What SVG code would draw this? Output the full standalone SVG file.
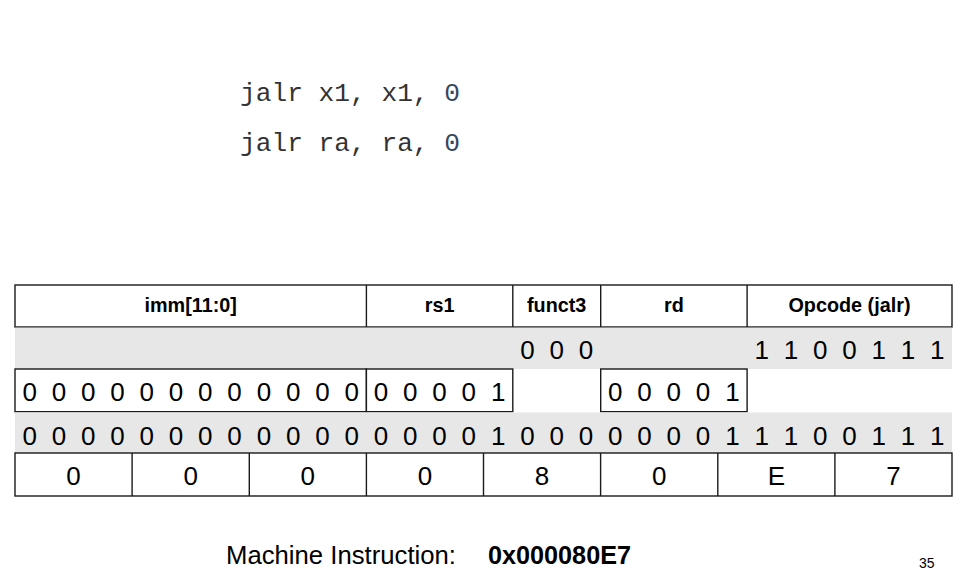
<svg xmlns="http://www.w3.org/2000/svg" width="974" height="580" viewBox="0 0 974 580">
<style>
.code{font-family:"Liberation Mono","Courier New",monospace;font-size:26.2px;fill:#333}
.hdr{font-family:"Liberation Sans",Arial,sans-serif;font-size:19.8px;font-weight:bold;fill:#000;text-anchor:middle}
.bit{font-family:"Liberation Sans",Arial,sans-serif;font-size:26px;fill:#000}
.hex{font-family:"Liberation Sans",Arial,sans-serif;font-size:26px;fill:#000;text-anchor:middle}
.cell{fill:#fff;stroke:#1a1a1a;stroke-width:1.4}
.gray{fill:#e7e7e7}
.ln{stroke:#1a1a1a;stroke-width:1.4}
</style>
<rect width="974" height="580" fill="#fff"/>
<g id="code">
<text class="code" x="240" y="101">jalr x1, x1, <tspan fill="#34495e">0</tspan></text>
<text class="code" x="240" y="151">jalr ra, ra, <tspan fill="#34495e">0</tspan></text>
</g>
<g id="header">
<rect class="cell" x="15" y="285" width="937" height="42"/>
<line class="ln" x1="366.4" y1="285" x2="366.4" y2="327"/>
<line class="ln" x1="512.8" y1="285" x2="512.8" y2="327"/>
<line class="ln" x1="600.7" y1="285" x2="600.7" y2="327"/>
<line class="ln" x1="747.1" y1="285" x2="747.1" y2="327"/>
<text class="hdr" x="190.7" y="312">imm[11:0]</text>
<text class="hdr" x="439.6" y="312">rs1</text>
<text class="hdr" x="556.7" y="312">funct3</text>
<text class="hdr" x="673.9" y="312">rd</text>
<text class="hdr" x="849.5" y="312">Opcode (jalr)</text>
</g>
<g id="row-fixed">
<rect class="gray" x="15" y="327.7" width="937" height="41.3"/>
<text class="bit" x="520.17 549.45 578.73" y="359">000</text>
<text class="bit" x="754.41 783.69 812.97 842.25 871.53 900.81 930.09" y="359">1100111</text>
</g>
<g id="row-operands">
<rect class="cell" x="15" y="369" width="351.4" height="42.7"/>
<rect class="cell" x="366.4" y="369" width="146.4" height="42.7"/>
<rect class="cell" x="600.7" y="369" width="146.4" height="42.7"/>
<text class="bit" x="22.41 51.69 80.97 110.25 139.53 168.81 198.09 227.37 256.65 285.93 315.21 344.49" y="401">000000000000</text>
<text class="bit" x="373.77 403.05 432.33 461.61 490.89" y="401">00001</text>
<text class="bit" x="608.01 637.29 666.57 695.85 725.13" y="401">00001</text>
</g>
<g id="row-binary">
<rect class="gray" x="15" y="412.4" width="937" height="40.6"/>
<text class="bit" x="22.41 51.69 80.97 110.25 139.53 168.81 198.09 227.37 256.65 285.93 315.21 344.49 373.77 403.05 432.33 461.61 490.89 520.17 549.45 578.73 608.01 637.29 666.57 695.85 725.13 754.41 783.69 812.97 842.25 871.53 900.81 930.09" y="445">00000000000000001000000011100111</text>
</g>
<g id="row-hex">
<rect class="cell" x="15" y="453" width="937" height="43"/>
<line class="ln" x1="132.1" y1="453" x2="132.1" y2="496"/>
<line class="ln" x1="249.3" y1="453" x2="249.3" y2="496"/>
<line class="ln" x1="366.4" y1="453" x2="366.4" y2="496"/>
<line class="ln" x1="483.5" y1="453" x2="483.5" y2="496"/>
<line class="ln" x1="600.6" y1="453" x2="600.6" y2="496"/>
<line class="ln" x1="717.8" y1="453" x2="717.8" y2="496"/>
<line class="ln" x1="834.9" y1="453" x2="834.9" y2="496"/>
<text class="hex" x="73.6" y="485">0</text>
<text class="hex" x="190.7" y="485">0</text>
<text class="hex" x="307.8" y="485">0</text>
<text class="hex" x="424.9" y="485">0</text>
<text class="hex" x="542.1" y="485">8</text>
<text class="hex" x="659.2" y="485">0</text>
<text class="hex" x="776.3" y="485">E</text>
<text class="hex" x="893.4" y="485">7</text>
</g>
<g id="caption">
<text x="226" y="564" font-family="'Liberation Sans',Arial,sans-serif" font-size="26" fill="#000" textLength="230" lengthAdjust="spacingAndGlyphs">Machine Instruction:</text>
<text x="488" y="563.5" font-family="'Liberation Sans',Arial,sans-serif" font-size="25.5" font-weight="bold" fill="#000" textLength="143" lengthAdjust="spacingAndGlyphs">0x000080E7</text>
<text x="919" y="568" font-family="'Liberation Sans',Arial,sans-serif" font-size="14" fill="#000">35</text>
</g>
</svg>
